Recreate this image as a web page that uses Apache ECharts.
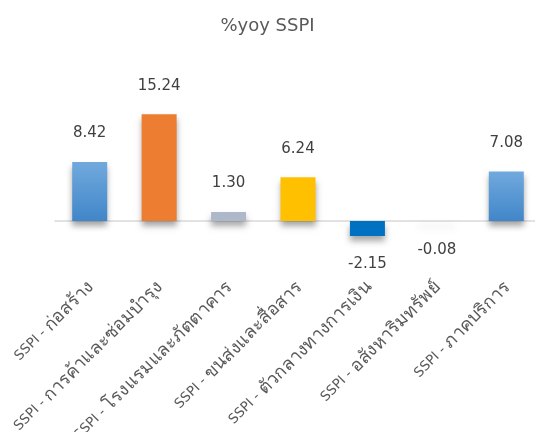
<!DOCTYPE html>
<html>
<head>
<meta charset="utf-8">
<script src="https://cdn.jsdelivr.net/npm/echarts@6/dist/echarts.min.js"></script>
<style>
  html, body { margin: 0; padding: 0; background: #fff; }
  #chart { width: 535px; height: 432px; }
</style>
</head>
<body>
<div id="chart"></div>
<script>
// categories and values
var categories = [
  'SSPI - ก่อสร้าง',
  'SSPI - การค้าและซ่อมบำรุง',
  'SSPI - โรงแรมและภัตตาคาร',
  'SSPI - ขนส่งและสื่อสาร',
  'SSPI - ตัวกลางทางการเงิน',
  'SSPI - อสังหาริมทรัพย์',
  'SSPI - ภาคบริการ'
];
var values = [8.42, 15.24, 1.30, 6.24, -2.15, -0.08, 7.08];

var blueGrad = new echarts.graphic.LinearGradient(0, 0, 0, 1, [
  { offset: 0, color: '#71a9dd' },
  { offset: 1, color: '#4186c9' }
]);
var barColors = [blueGrad, '#ed7d31', '#adb9ca', '#ffc000', '#0070c0', '#d9d9d9', blueGrad];

var font = '"DejaVu Sans", "Noto Sans", sans-serif';

var chart = echarts.init(document.getElementById('chart'));

var option = {
  animation: false,
  title: {
    text: '%yoy SSPI',
    left: 'center',
    top: 12,
    textStyle: { fontFamily: font, fontSize: 18, fontWeight: 'normal', color: '#595959' }
  },
  grid: { left: 55, right: -6, top: 102, height: 154, outerBoundsMode: 'none', containLabel: false },
  xAxis: {
    type: 'category',
    data: categories,
    axisLine: { onZero: true, lineStyle: { color: '#d9d9d9', width: 1.5 } },
    axisTick: { show: false },
    axisLabel: {
      interval: 0,
      rotate: 45,
      margin: 27,
      padding: [4, 0, 0, 0],
      color: '#595959',
      fontFamily: font,
      fontSize: 13,
      // Latin prefix and Thai name drawn at different sizes, the Thai fallback font runs small
      formatter: function (s) {
        var parts = s.split(' - ');
        return '{a|' + parts[0] + ' - }{t|' + parts[1] + '}';
      },
      rich: {
        a: { fontSize: 13.5, color: '#595959', fontFamily: font },
        t: { fontSize: 18, color: '#595959', fontFamily: font }
      }
    }
  },
  yAxis: {
    type: 'value',
    min: -5,
    max: 17,
    show: false,
    splitLine: { show: false }
  },
  series: [{
    type: 'bar',
    barWidth: 35,
    data: values.map(function (v, i) {
      return {
        value: v,
        itemStyle: { color: barColors[i] },
        label: { position: v < 0 ? 'bottom' : 'top' }
      };
    }),
    itemStyle: {
      shadowColor: 'rgba(0,0,0,0.35)',
      shadowBlur: 6,
      shadowOffsetY: 5
    },
    label: {
      show: true,
      distance: 21,
      color: '#404040',
      fontFamily: font,
      fontSize: 15,
      formatter: function (p) { return p.value.toFixed(2); }
    }
  }]
};

chart.setOption(option);
</script>
</body>
</html>
